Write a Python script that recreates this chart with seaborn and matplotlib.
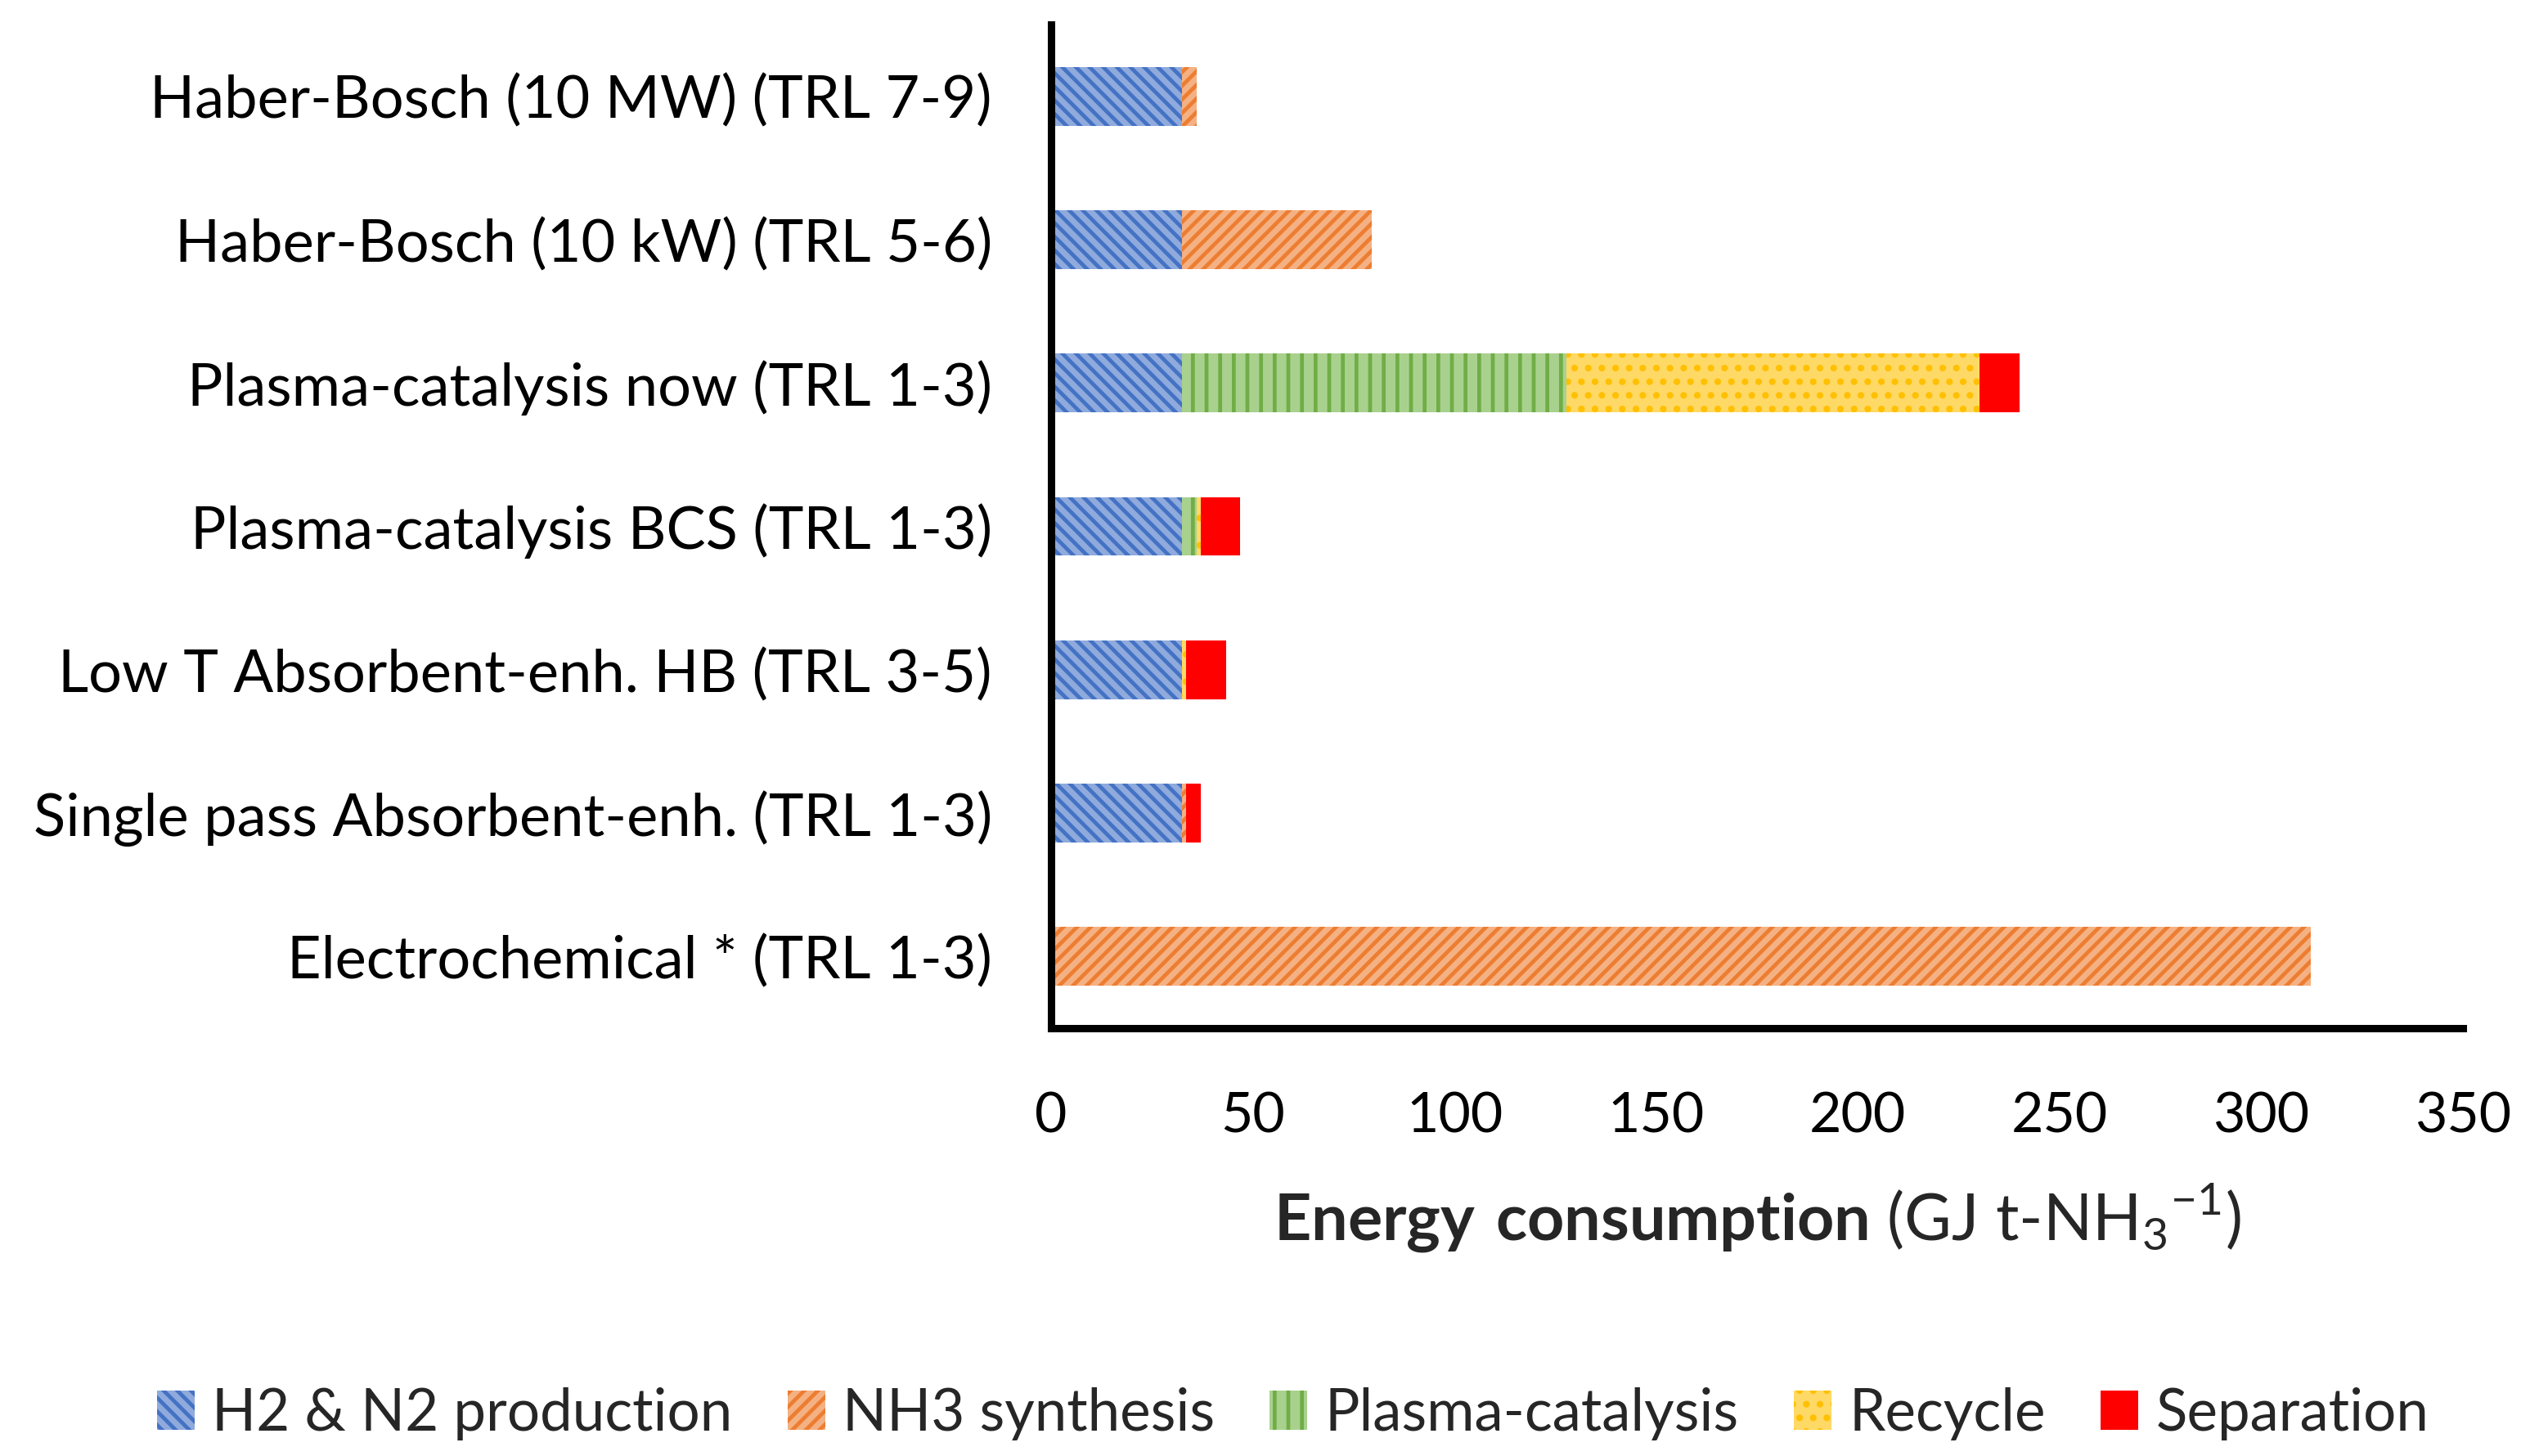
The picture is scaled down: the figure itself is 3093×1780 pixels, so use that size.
import numpy as np
import pandas as pd
import seaborn as sns
import matplotlib
matplotlib.use("Agg")
import matplotlib.pyplot as plt

processes = ["Haber-Bosch (10 MW) (TRL 7-9)",
             "Haber-Bosch (10 kW) (TRL 5-6)",
             "Plasma-catalysis now (TRL 1-3)",
             "Plasma-catalysis BCS (TRL 1-3)",
             "Low T Absorbent-enh. HB (TRL 3-5)",
             "Single pass Absorbent-enh. (TRL 1-3)",
             "Electrochemical * (TRL 1-3)"]
h2n2 = [32.5, 32.5, 32.5, 32.5, 32.5, 32.5, 0]
nh3 = [3.5, 46.9, 0, 0, 0, 0.9, 312.3]
plasma = [0, 0, 95.3, 3.6, 0, 0, 0]
recycle = [0, 0, 102.4, 0.9, 0.9, 0, 0]
separation = [0, 0, 9.9, 9.9, 9.9, 3.6, 0]

components = ["H2 & N2 production", "NH3 synthesis", "Plasma-catalysis", "Recycle", "Separation"]
face_colors = ["#8FAADC", "#F4B183", "#A9D18E", "#FFD966", "#FF0000"]
hatch_colors = ["#4472C4", "#ED7D31", "#70AD47", "#FFC000", "#FF0000"]
hatches = ["\\\\", "//", "|", ".", None]

sns.set_style("white")
plt.rcParams["font.family"] = ["Lato", "DejaVu Sans"]
plt.rcParams["mathtext.fontset"] = "custom"
plt.rcParams["mathtext.rm"] = "Lato"
plt.rcParams["mathtext.bf"] = "Lato:bold"
plt.rcParams["hatch.linewidth"] = 3.4

df = pd.DataFrame({"process": processes, components[0]: h2n2, components[1]: nh3,
                   components[2]: plasma, components[3]: recycle, components[4]: separation})
cum = df[components].cumsum(axis=1)

fig = plt.figure(figsize=(30.93, 17.8), dpi=100)
ax = fig.add_axes([0.4155, 0.2938, 0.5580, 0.6893])

# draw cumulative totals from the outermost segment inwards so each shows only its part
for i in reversed(range(len(components))):
    sns.barplot(x=cum[components[i]], y=df["process"], orient="h", ax=ax,
                color=face_colors[i], saturation=1, width=0.41,
                edgecolor=hatch_colors[i], linewidth=0, hatch=hatches[i],
                label=components[i])

ax.set_xlim(0, 350)
ax.set_ylim(6.5, -0.5)
ax.set_xticks(np.arange(0, 351, 50))
ax.tick_params(axis="x", direction="in", length=13, width=4, pad=56, labelsize=49, colors="black")
ax.tick_params(axis="y", length=0, pad=52, labelsize=52, colors="black")
ax.set_ylabel("")
ax.set_xlabel(r"$\mathbf{Energy\ consumption}$ (GJ t-NH$_3$$^{-1}$)", fontsize=57, labelpad=34)
for s in ["top", "right"]:
    ax.spines[s].set_visible(False)
for s in ["left", "bottom"]:
    ax.spines[s].set_color("black")
    ax.spines[s].set_linewidth(6.5)

handles, labels = ax.get_legend_handles_labels()
order = [labels.index(c) for c in components]
ax.legend([handles[k] for k in order], [labels[k] for k in order],
          loc="center", bbox_to_anchor=(0.511, 0.029), bbox_transform=fig.transFigure,
          ncol=5, frameon=False, fontsize=51, handlelength=0.65, handleheight=0.65,
          handletextpad=0.3, columnspacing=0.95)

fig.savefig("out.png", dpi=100)
